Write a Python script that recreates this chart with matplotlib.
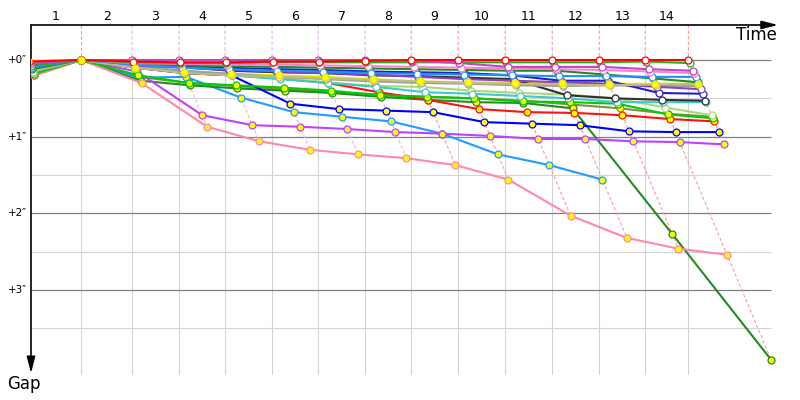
import matplotlib
matplotlib.use("Agg")
import matplotlib.pyplot as plt
import matplotlib.colors as mcolors
import numpy as np

# leader lap durations (time units), lap 0 = start line
lap_time = [1.65, 1.58, 1.46, 1.43, 1.46, 1.43, 1.46, 1.43, 1.46, 1.46, 1.46, 1.46, 1.43, 1.34]
lap_labels = [str(i) for i in range(1, 15)]
gap_labels = ["+0\u2033", "+1\u2033", "+2\u2033", "+3\u2033"]

# gap to leader (s) at the end of laps 0..14, None = no more laps
red = [0.02, 0, 0.02, 0.03, 0.03, 0.02, 0.02, 0.01, 0, 0, 0, 0, 0, 0, 0]
magenta = [0.05, 0, 0, 0, 0, 0, 0, 0, 0.01, 0.04, 0.09, 0.09, 0.09, 0.12, 0.14]
green = [0.08, 0, 0.03, 0.04, 0.04, 0.03, 0.03, 0.03, 0.03, 0.03, 0.03, 0.03, 0.03, 0.02, 0.04]
pink = [0.04, 0, 0.04, 0.05, 0.06, 0.06, 0.07, 0.08, 0.09, 0.10, 0.11, 0.12, 0.13, 0.15, 0.17]
dodger = [0.10, 0, 0.06, 0.10, 0.12, 0.14, 0.15, 0.17, 0.18, 0.19, 0.20, 0.21, 0.21, 0.22, 0.22]
forest = [0.12, 0, 0.05, 0.07, 0.08, 0.09, 0.10, 0.11, 0.12, 0.13, 0.14, 0.14, 0.19, 0.24, 0.29]
khaki = [0.15, 0, 0.10, 0.17, 0.20, 0.22, 0.24, 0.26, 0.28, 0.30, 0.31, 0.32, 0.33, 0.32, 0.31]
violet = [0.10, 0, 0.07, 0.10, 0.13, 0.15, 0.17, 0.19, 0.22, 0.25, 0.27, 0.29, 0.31, 0.35, 0.38]
navy = [0.08, 0, 0.06, 0.08, 0.10, 0.12, 0.13, 0.15, 0.16, 0.17, 0.20, 0.27, 0.27, 0.43, 0.44]
grey = [0.13, 0, 0.08, 0.14, 0.18, 0.22, 0.25, 0.28, 0.30, 0.31, 0.33, 0.34, 0.33, 0.34, 0.34]
black = [0.06, 0, 0.05, 0.09, 0.14, 0.16, 0.17, 0.20, 0.21, 0.23, 0.25, 0.46, 0.50, 0.52, 0.53]
cyan = [0.15, 0, 0.10, 0.15, 0.20, 0.25, 0.30, 0.35, 0.42, 0.44, 0.47, 0.50, 0.55, 0.55, 0.55]
palegreen = [0.11, 0, 0.09, 0.14, 0.19, 0.24, 0.29, 0.34, 0.35, 0.40, 0.43, 0.45, 0.50, 0.62, 0.72]
lime = [0.18, 0, 0.20, 0.30, 0.33, 0.36, 0.40, 0.46, 0.48, 0.50, 0.54, 0.55, 0.57, 0.71, 0.76]
red2 = [0.12, 0, 0.10, 0.17, 0.20, 0.24, 0.30, 0.42, 0.52, 0.64, 0.68, 0.69, 0.72, 0.77, 0.80]
blue2 = [0.10, 0, 0.10, 0.17, 0.20, 0.57, 0.64, 0.66, 0.68, 0.81, 0.83, 0.85, 0.93, 0.94, 0.94]
purple2 = [0.14, 0, 0.15, 0.72, 0.85, 0.87, 0.90, 0.94, 0.96, 0.99, 1.03, 1.03, 1.06, 1.07, 1.10]
pink2 = [0.20, 0, 0.30, 0.87, 1.06, 1.17, 1.23, 1.28, 1.37, 1.56, 2.03, 2.32, 2.46, 2.54, None]
forest2 = [0.19, 0, 0.27, 0.33, 0.37, 0.40, 0.43, 0.48, 0.52, 0.55, 0.56, 0.63, 2.27, 3.91, None]
dodger2 = [0.17, 0, 0.23, 0.22, 0.49, 0.68, 0.74, 0.80, 0.96, 1.23, 1.37, 1.56, None, None, None]
olive = [0.20, 0, 0.22, 0.30, 0.34, 0.38, 0.42, 0.45, 0.48, 0.50, 0.53, 0.58, 0.63, 0.70, 0.74]
yellow = [0.01, 0, 0.10, 0.15, 0.18, 0.20, 0.22, 0.25, 0.28, 0.29, 0.30, 0.30, 0.31, 0.31, 0.31]

W = "white"
Y = "#ffff00"
drivers = [
    ("red", red, "#ff0000", W),
    ("magenta", magenta, "#b848c8", W),
    ("green", green, "#22b022", W),
    ("pink", pink, "#ff80d0", W),
    ("dodger", dodger, "#1e90ff", W),
    ("forest", forest, "#228b22", W),
    ("khaki", khaki, "#bdbd80", W),
    ("violet", violet, "#9040c0", W),
    ("navy", navy, "#2020c8", W),
    ("grey", grey, "#a0a0a0", W),
    ("black", black, "#303030", W),
    ("cyan", cyan, "#40c8c8", W),
    ("palegreen", palegreen, "#a8d878", W),
    ("yellow", yellow, "#e8e800", Y),
    ("lime", lime, "#00cc00", Y),
    ("red2", red2, "#ff1010", Y),
    ("blue2", blue2, "#0000ff", Y),
    ("purple2", purple2, "#c040ff", Y),
    ("pink2", pink2, "#ff88aa", Y),
    ("forest2", forest2, "#228b22", Y),
    ("dodger2", dodger2, "#1e9cff", Y),
    ("olive", olive, "#8c8c40", Y),
]

T = np.concatenate([[0], np.cumsum(lap_time)])
px_x = 32.2   # px per x unit
px_y = 76.7   # px per second of gap
x0 = 3 / px_x
x1 = 750 / px_x
xg = 743 / px_x
y_top = -35 / px_y
y_bot = 315 / px_y


def lighten(c, f=0.6):
    r = np.array(mcolors.to_rgb(c))
    return tuple(r + (1 - r) * f)


fig = plt.figure(figsize=(8, 4), dpi=100)
ax = fig.add_axes([31 / 800, 25 / 400, 747 / 800, 350 / 400])
ax.set_xlim(x0, x1)
ax.set_ylim(y_bot, y_top)
ax.axis("off")

# grid
ax.vlines(T[1:], 0, y_bot, color="#d4d4d4", lw=0.8, zorder=1)
ax.hlines([0.5, 1.5, 2.5, 3.5], x0, xg, color="#d4d4d4", lw=0.8, zorder=1)
ax.hlines([0, 1, 2, 3], x0, xg, color="#808080", lw=0.9, zorder=1)

# dashed lap lines joining every car at the end of each lap
for k in range(1, 15):
    pts = [(d[1][k], d[2]) for d in drivers if d[1][k] is not None]
    lead = min(range(len(pts)), key=lambda i: pts[i][0])
    gaps = sorted(p[0] for p in pts)
    xs = [T[k]] + [T[k] + g for g in gaps]
    ys = [y_top] + gaps
    ax.plot(xs, ys, color=lighten(pts[lead][1]), lw=0.8, ls=(0, (3, 2)), zorder=2)

n = len(drivers)
for i, (name, gaps, col, face) in enumerate(drivers):
    xs, ys = [], []
    for k, g in enumerate(gaps):
        if g is None:
            break
        xs.append(T[k] + g)
        ys.append(g)
    z = 3 + (n - i)
    ax.plot(xs, ys, color=col, lw=1.5, zorder=z)
    # yellow car's markers sit above the pack
    mz = z if name != "yellow" else 3 + n + 1
    ax.plot(xs, ys, ls="none", marker="o", ms=5, mfc=face, mec=col,
            mew=0.9, zorder=mz)

# axes with arrows
ax.annotate("", xy=(1, 1), xytext=(0, 1), xycoords="axes fraction",
            arrowprops=dict(arrowstyle="-|>,head_length=0.7,head_width=0.18",
                            color="black", lw=1.2, mutation_scale=14,
                            shrinkA=0, shrinkB=0), annotation_clip=False)
ax.annotate("", xy=(0, 0.005), xytext=(0, 1), xycoords="axes fraction",
            arrowprops=dict(arrowstyle="-|>,head_length=0.7,head_width=0.18",
                            color="black", lw=1.2, mutation_scale=14,
                            shrinkA=0, shrinkB=0), annotation_clip=False)

fig.text(777 / 800, 1 - 35 / 400, "Time", ha="right", va="center", fontsize=12)
fig.text(24 / 800, 1 - 384 / 400, "Gap", ha="center", va="center", fontsize=12)

bounds = [x0] + list(T[1:])
for k, lab in enumerate(lap_labels):
    xm = (bounds[k] + bounds[k + 1]) / 2
    ax.text(xm, 1.023, lab, transform=ax.get_xaxis_transform(), ha="center",
            va="center", fontsize=9)

for v, lab in enumerate(gap_labels):
    ax.text(-23 / 747, v, lab, transform=ax.get_yaxis_transform(), ha="left",
            va="center", fontsize=7.5)

fig.savefig("out.png", dpi=100)
